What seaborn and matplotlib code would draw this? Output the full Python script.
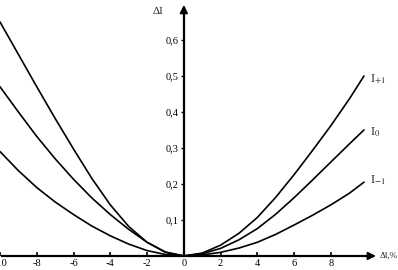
import pandas as pd
import matplotlib
matplotlib.use('Agg')
import matplotlib.pyplot as plt
import seaborn as sns

sns.set_theme(style='white')
plt.rcParams['font.family'] = ['Liberation Serif', 'DejaVu Serif']
plt.rcParams['mathtext.fontset'] = 'stix'

# значения
dl = [-10, -9, -8, -7, -6, -5, -4, -3, -2, -1, 0, 1, 2, 3, 4, 5, 6, 7, 8, 9, 9.8]
i_plus1 = [0.65, 0.56, 0.47, 0.382, 0.297, 0.215, 0.142, 0.082, 0.038, 0.01, 0.0,
           0.008, 0.03, 0.063, 0.107, 0.163, 0.226, 0.293, 0.362, 0.436, 0.50]
i_0 = [0.47, 0.40, 0.332, 0.27, 0.213, 0.161, 0.115, 0.074, 0.038, 0.011, 0.0,
       0.006, 0.021, 0.045, 0.076, 0.116, 0.162, 0.211, 0.261, 0.311, 0.35]
i_minus1 = [0.29, 0.237, 0.19, 0.15, 0.115, 0.083, 0.056, 0.033, 0.015, 0.004, 0.0,
            0.003, 0.01, 0.022, 0.038, 0.06, 0.086, 0.113, 0.142, 0.174, 0.205]

curve_names = [r'I$_{+1}$', r'I$_{0}$', r'I$_{-1}$']
x_ticks = [-10, -8, -6, -4, -2, 0, 2, 4, 6, 8]
y_ticks = [0.1, 0.2, 0.3, 0.4, 0.5, 0.6]
y_tick_labels = ['0,1', '0,2', '0,3', '0,4', '0,5', '0,6']

data = pd.DataFrame({
    'dl': dl * 3,
    'di': i_plus1 + i_0 + i_minus1,
    'curve': [curve_names[0]] * len(dl) + [curve_names[1]] * len(dl) + [curve_names[2]] * len(dl),
})

fig = plt.figure(figsize=(3.98, 2.70), dpi=100)
ax = fig.add_axes([0, 0, 1, 1])

sns.lineplot(data=data, x='dl', y='di', units='curve', estimator=None,
             color='black', linewidth=1.2, ax=ax, legend=False)

ax.set_xlim(-9.86, 11.65)
ax.set_ylim(-0.039, 0.711)

# оси через начало координат
ax.spines['left'].set_position(('data', 0))
ax.spines['bottom'].set_position(('data', 0))
ax.spines['top'].set_visible(False)
ax.spines['right'].set_visible(False)
ax.spines['left'].set_bounds(0, 0.69)
ax.spines['bottom'].set_bounds(-9.9, 10.3)
for s in ['left', 'bottom']:
    ax.spines[s].set_color('black')
    ax.spines[s].set_linewidth(1.6)

ax.annotate('', xy=(10.6, 0), xytext=(10.0, 0),
            arrowprops=dict(arrowstyle='-|>', color='black', lw=1.2, mutation_scale=12))
ax.annotate('', xy=(0, 0.705), xytext=(0, 0.67),
            arrowprops=dict(arrowstyle='-|>', color='black', lw=1.2, mutation_scale=12))

ax.set_xticks(x_ticks)
ax.set_xticklabels([str(t) for t in x_ticks])
ax.set_yticks(y_ticks)
ax.set_yticklabels(y_tick_labels)
ax.tick_params(axis='x', direction='in', length=3, width=1.2, pad=2,
               labelsize=7.5, colors='black', bottom=True)
ax.tick_params(axis='y', direction='out', length=2, width=1.0, pad=2,
               labelsize=7.5, colors='black', left=True)
ax.set_xlabel('')
ax.set_ylabel('')

ax.text(-1.4, 0.678, 'ΔI', fontsize=8, ha='center', va='center')
ax.text(10.65, 0.0, 'Δl,%', fontsize=6.5, ha='left', va='center')

label_y = [0.49, 0.345, 0.21]
for name, yy in zip(curve_names, label_y):
    ax.text(10.1, yy, name, fontsize=9, ha='left', va='center')

fig.savefig('out.png', dpi=100)
